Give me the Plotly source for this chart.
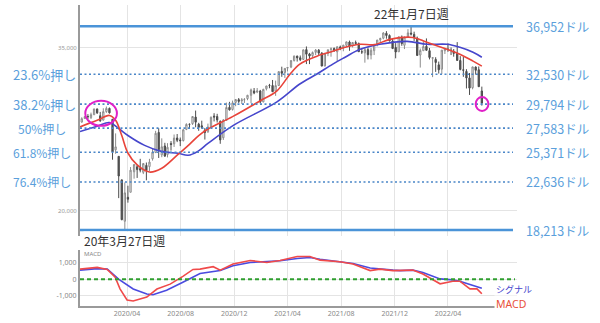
import plotly.graph_objects as go

# ---------------- weekly candles (DJIA, week ending) ----------------
weeks = ["2019-12-20","2019-12-27","2020-01-03","2020-01-10","2020-01-17","2020-01-24","2020-01-31","2020-02-07","2020-02-14","2020-02-21",
         "2020-02-28","2020-03-06","2020-03-13","2020-03-20","2020-03-27","2020-04-03","2020-04-09","2020-04-17","2020-04-24","2020-05-01",
         "2020-05-08","2020-05-15","2020-05-22","2020-05-29","2020-06-05","2020-06-12","2020-06-19","2020-06-26","2020-07-02","2020-07-10",
         "2020-07-17","2020-07-24","2020-07-31","2020-08-07","2020-08-14","2020-08-21","2020-08-28","2020-09-04","2020-09-11","2020-09-18",
         "2020-09-25","2020-10-02","2020-10-09","2020-10-16","2020-10-23","2020-10-30","2020-11-06","2020-11-13","2020-11-20","2020-11-27",
         "2020-12-04","2020-12-11","2020-12-18","2020-12-24","2020-12-31","2021-01-08","2021-01-15","2021-01-22","2021-01-29","2021-02-05",
         "2021-02-12","2021-02-19","2021-02-26","2021-03-05","2021-03-12","2021-03-19","2021-03-26","2021-04-01","2021-04-09","2021-04-16",
         "2021-04-23","2021-04-30","2021-05-07","2021-05-14","2021-05-21","2021-05-28","2021-06-04","2021-06-11","2021-06-18","2021-06-25",
         "2021-07-02","2021-07-09","2021-07-16","2021-07-23","2021-07-30","2021-08-06","2021-08-13","2021-08-20","2021-08-27","2021-09-03",
         "2021-09-10","2021-09-17","2021-09-24","2021-10-01","2021-10-08","2021-10-15","2021-10-22","2021-10-29","2021-11-05","2021-11-12",
         "2021-11-19","2021-11-26","2021-12-03","2021-12-10","2021-12-17","2021-12-23","2021-12-31","2022-01-07","2022-01-14","2022-01-21",
         "2022-01-28","2022-02-04","2022-02-11","2022-02-18","2022-02-25","2022-03-04","2022-03-11","2022-03-18","2022-03-25","2022-04-01",
         "2022-04-08","2022-04-14","2022-04-22","2022-04-29","2022-05-06","2022-05-13","2022-05-20","2022-05-27","2022-06-03","2022-06-10",
         "2022-06-17"]
opens = [28140,28465,28654,28553,28816,29350,28723,28319,29104,29400,
         28402,25590,24992,22831,19029,21228,21693,23574,24033,23869,
         23524,24162,24050,24770,25342,27191,25128,25947,25152,26174,
         26142,26677,26501,26440,27470,27930,28000,28600,27950,27800,
         27400,27250,27700,28690,28650,28200,26700,28300,29500,29300,
         29950,30200,30100,30200,30300,30600,31000,30900,31000,30000,
         31200,31500,31500,31000,31500,32800,32700,33100,33200,33800,
         34200,34050,33900,34800,34400,34250,34550,34750,34480,33300,
         34450,34800,34900,34600,35050,34950,35200,35500,35150,35450,
         35350,34600,34500,34800,34300,34700,35300,35700,35850,36300,
         36100,35600,35000,34600,35950,35200,35950,36320,36200,35850,
         34300,34700,35100,34700,34000,33900,33400,33000,34700,34850,
         34750,34650,34450,33800,32950,32800,32200,31300,33200,32950,
         31000]
highs = [28582,28701,28872,29009,29373,29374,29075,29409,29568,29477,
         28402,27102,25018,22837,22595,22293,24009,24265,24234,24765,
         24350,24425,24765,25758,27338,27580,26647,26236,26204,26393,
         27000,27043,26720,27500,28027,28020,28672,29199,28075,28270,
         27600,28000,28650,28958,28900,28300,28420,29933,30000,30116,
         30233,30350,30350,30350,30640,31220,31270,31270,31100,31200,
         31470,31650,32010,31950,32800,33230,33100,33200,33810,34260,
         34250,34260,34810,35091,34500,34630,34850,34850,34570,34500,
         34800,35000,35000,35100,35170,35240,35520,35630,35500,35630,
         35450,34950,34950,35000,34950,35300,35700,35900,36400,36500,
         36200,35800,35400,36000,36100,36000,36680,36952,36450,36000,
         34900,35550,35830,34950,34100,34100,33700,34760,34950,35372,
         35000,34850,35490,34200,34120,33000,32650,33220,33250,33250,
         31400]
lows = [28090,28440,28419,28418,28788,28888,28169,28300,28990,28920,
        24681,25226,21154,19121,18213,20735,21694,22941,23007,23518,
        23361,22790,23650,24600,25291,24843,24915,24940,24893,25523,
        25856,26300,25931,26360,27400,27550,27880,27664,27340,27530,
        26537,27150,27600,28200,28100,26144,26500,28300,29200,29200,
        29600,29900,29800,29900,30150,29880,30700,30800,29850,29950,
        31050,31250,30900,30550,31450,32300,32200,32800,33100,33700,
        33700,33750,33850,33470,33470,34100,34300,34300,33270,33250,
        34200,34150,34600,33740,34750,34650,35050,34690,35000,35250,
        34600,34400,33600,33900,33900,34300,35100,35400,35750,35800,
        35550,34850,34000,34600,35150,34850,35900,36100,35600,34250,
        33150,34700,34700,33900,32272,32750,32600,32550,34400,34600,
        34300,34150,33780,32900,32300,31228,30635,31150,32500,31390,
        29653]
closes = [28455,28645,28634,28823,29348,28990,28256,29103,29398,28992,
          25409,25865,23185,19174,21636,21053,23720,24242,23775,23724,
          24331,23685,24465,25383,27111,25605,25871,25016,25827,26075,
          26672,26470,26428,27433,27931,27930,28654,28133,27666,27657,
          27174,27683,28587,28606,28336,26502,28323,29480,29263,29910,
          30218,30046,30179,30200,30606,31098,30814,30997,29983,31148,
          31458,31494,30932,31496,32779,32628,33072,33153,33801,34200,
          34043,33874,34778,34382,34208,34529,34756,34480,33290,34433,
          34786,34870,34687,35061,34935,35208,35515,35120,35456,35369,
          34608,34585,34798,34326,34746,35295,35677,35820,36328,36100,
          35602,34899,34580,35971,35365,35950,36338,36231,35912,34265,
          34725,35089,34738,34079,34058,33615,32945,34755,34862,34818,
          34721,34451,33811,32977,32899,32197,31262,33213,32900,31393,
          29888]

# ---------------- moving averages ----------------
ma13_dates = ["2019-12-16","2020-01-24","2020-02-21","2020-03-06","2020-03-20","2020-04-03","2020-04-24","2020-05-22",
              "2020-06-19","2020-07-24","2020-08-21","2020-09-11","2020-10-02","2020-11-27","2021-01-29","2021-03-08",
              "2021-04-07","2021-04-29","2021-06-07","2021-07-13","2021-08-10","2021-09-13","2021-10-15","2021-11-20",
              "2022-01-11","2022-02-12","2022-03-30","2022-04-28","2022-05-28","2022-06-17"]
ma13_vals = [27700,28300,28750,28300,26900,25300,24200,23550,
             23900,25100,26100,26900,27500,28640,30100,31010,
             32560,33470,34200,34650,35010,35290,35250,35740,
             35920,35470,34830,34380,33740,33280]
ma26_dates = ["2019-12-16","2020-01-24","2020-02-21","2020-03-13","2020-04-03","2020-05-11","2020-06-18","2020-07-26",
              "2020-08-18","2020-09-09","2020-10-02","2020-11-28","2021-03-08","2021-04-29","2021-06-07","2021-07-13",
              "2021-08-10","2021-09-13","2021-10-28","2021-12-29","2022-02-12","2022-03-30","2022-04-28","2022-05-28",
              "2022-06-17"]
ma26_vals = [27270,27750,28100,27550,26910,26000,25450,25270,
             25090,25450,26180,27820,30000,31640,32560,33470,
             34100,34830,35290,35560,35290,35290,35010,34560,
             34100]

# ---------------- MACD panel ----------------
macd_dates = ["2019-12-16","2020-01-24","2020-02-16","2020-03-05","2020-03-16","2020-04-01","2020-04-15","2020-05-16",
              "2020-06-08","2020-07-08","2020-08-06","2020-08-29","2020-09-14","2020-10-14","2020-10-30","2020-11-28",
              "2021-01-06","2021-02-13","2021-03-15","2021-04-23","2021-05-22","2021-06-14","2021-07-29","2021-08-28",
              "2021-10-06","2021-10-28","2021-11-27","2021-12-13","2022-01-11","2022-02-03","2022-03-14","2022-04-12",
              "2022-04-28","2022-05-21","2022-06-06","2022-06-17"]
macd_vals = [620,730,600,120,-590,-1270,-1330,-1090,
             -600,-300,180,600,620,770,560,930,
             1150,1030,1150,1390,1390,1170,1070,930,
             530,620,530,530,560,320,-280,-120,
             -120,-590,-590,-890]
signal_dates = ["2019-12-16","2020-01-24","2020-02-16","2020-03-16","2020-04-15","2020-05-16","2020-05-30","2020-06-30",
                "2020-08-06","2020-09-14","2020-10-30","2020-11-28","2021-01-06","2021-02-13","2021-03-15","2021-04-23",
                "2021-05-22","2021-06-14","2021-07-29","2021-08-28","2021-10-06","2021-10-28","2021-11-27","2021-12-13",
                "2022-01-11","2022-02-03","2022-03-14","2022-04-12","2022-04-28","2022-05-21","2022-06-17"]
signal_vals = [560,650,620,-60,-600,-900,-950,-670,
               -180,350,540,830,1030,1070,1130,1270,
               1330,1230,1070,970,690,620,560,530,
               560,420,20,-40,-120,-320,-550]

# ---------------- axis ticks ----------------
x_tick_dates = ["2020-04-01","2020-08-01","2020-12-01","2021-04-01","2021-08-01","2021-12-01","2022-04-01"]
x_tick_labels = ["2020/04","2020/08","2020/12","2021/04","2021/08","2021/12","2022/04"]
y_tick_vals = [20000, 35000]
y_tick_labels = ["20,000", "35,000"]
macd_tick_vals = [-1000, 0, 1000]
macd_tick_labels = ["-1,000", "0", "1,000"]

# ---------------- Fibonacci levels ----------------
fib_values = [36952, 32530, 29794, 27583, 25371, 22636, 18213]
fib_right = ["36,952ドル","32,530ドル","29,794ドル","27,583ドル","25,371ドル","22,636ドル","18,213ドル"]
fib_left = ["", "23.6%押し", "38.2%押し", "50%押し", "61.8%押し", "76.4%押し", ""]
fib_solid = [True, False, False, False, False, False, True]

X_RANGE = ["2019-12-16", "2022-09-05"]

# pixel helpers (plot area: x 80..517, y 5..309)
def px_x(p):
    return (p - 80) / 437.0

def px_y(p):
    return (309 - p) / 304.0

fig = go.Figure()

fig.add_trace(go.Candlestick(
    x=weeks, open=opens, high=highs, low=lows, close=closes,
    increasing=dict(fillcolor="white", line=dict(color="#8c8c8c", width=1)),
    decreasing=dict(fillcolor="#4d4d4d", line=dict(color="#4d4d4d", width=1)),
    whiskerwidth=0, xaxis="x", yaxis="y", showlegend=False, hoverinfo="skip"))

fig.add_trace(go.Scatter(x=ma26_dates, y=ma26_vals, mode="lines", line=dict(color="#4646cc", width=1.6, shape="spline"),
                         xaxis="x", yaxis="y", showlegend=False, hoverinfo="skip"))
fig.add_trace(go.Scatter(x=ma13_dates, y=ma13_vals, mode="lines", line=dict(color="#e8443a", width=1.6, shape="spline"),
                         xaxis="x", yaxis="y", showlegend=False, hoverinfo="skip"))

fig.add_trace(go.Scatter(x=signal_dates, y=signal_vals, mode="lines", line=dict(color="#4a4ae0", width=1.6),
                         xaxis="x2", yaxis="y2", showlegend=False, hoverinfo="skip"))
fig.add_trace(go.Scatter(x=macd_dates, y=macd_vals, mode="lines", line=dict(color="#f04a4a", width=1.6),
                         xaxis="x2", yaxis="y2", showlegend=False, hoverinfo="skip"))

shapes = []
annotations = []
line_end = px_x(513)
for v, solid, rl, ll in zip(fib_values, fib_solid, fib_right, fib_left):
    if solid:
        shapes.append(dict(type="line", xref="x domain", yref="y", x0=0, x1=line_end, y0=v, y1=v,
                           line=dict(color="#4a94d8", width=2.5), layer="above"))
    else:
        shapes.append(dict(type="line", xref="x domain", yref="y", x0=0, x1=line_end, y0=v, y1=v,
                           line=dict(color="#4a86c8", width=1.6, dash="2px,2.5px"), layer="above"))
    annotations.append(dict(text=rl, xref="paper", yref="y", x=px_x(524), y=v, xanchor="left", yanchor="middle",
                            showarrow=False, font=dict(family="Noto Sans CJK JP", size=12.5, color="#5b9fdc")))
    if ll:
        big = ll.startswith("23.6") or ll.startswith("38.2")
        lx = 17 if ll.startswith("50") else 12
        annotations.append(dict(text=ll, xref="paper", yref="y", x=px_x(lx), y=v, xanchor="left", yanchor="middle",
                                showarrow=False, bgcolor="white", borderpad=0,
                                font=dict(family="Noto Sans CJK JP", size=13 if big else 12, color="#5b9fdc")))

# zero line in MACD panel
shapes.append(dict(type="line", xref="x2 domain", yref="y2", x0=0, x1=px_x(515), y0=0, y1=0,
                   line=dict(color="#2f9f2f", width=2, dash="4px,3px"), layer="above"))

# magenta highlight circles
shapes.append(dict(type="circle", xref="x", yref="y", x0="2019-12-28", x1="2020-03-09", y0=27800, y1=30100,
                   line=dict(color="#e020c8", width=2), layer="above"))
shapes.append(dict(type="circle", xref="x", yref="y", x0="2022-06-03", x1="2022-07-02", y0=29170, y1=30440,
                   line=dict(color="#e020c8", width=2), layer="above"))

annotations += [
    dict(text="22年1月7日週", xref="x", yref="paper", x="2022-01-07", y=px_y(14), showarrow=False,
         xanchor="center", yanchor="middle", font=dict(family="Noto Sans CJK JP", size=12, color="#333333")),
    dict(text="20年3月27日週", xref="x", yref="paper", x="2020-03-27", y=px_y(243), showarrow=False,
         xanchor="center", yanchor="middle", bgcolor="white", borderpad=0,
         font=dict(family="Noto Sans CJK JP", size=12, color="#333333")),
    dict(text="MACD", xref="paper", yref="paper", x=px_x(82), y=px_y(256), showarrow=False,
         xanchor="left", yanchor="middle", font=dict(family="Noto Sans", size=6, color="#888888")),
    dict(text="シグナル", xref="paper", yref="paper", x=px_x(494), y=px_y(292), showarrow=False,
         xanchor="left", yanchor="middle", font=dict(family="Noto Sans CJK JP", size=9, color="#4444cc")),
    dict(text="MACD", xref="paper", yref="paper", x=px_x(494), y=px_y(307), showarrow=False,
         xanchor="left", yanchor="middle", bgcolor="white", borderpad=1,
         font=dict(family="Noto Sans", size=10.5, color="#e8503a")),
]

grid = "#e4e4e4"
fig.update_layout(
    width=600, height=323, margin=dict(l=80, r=83, t=5, b=14),
    paper_bgcolor="white", plot_bgcolor="white",
    showlegend=False,
    shapes=shapes, annotations=annotations,
    xaxis=dict(type="date", range=X_RANGE, domain=[0, 1], anchor="y", showticklabels=False,
               tickvals=x_tick_dates, showgrid=True, gridcolor=grid, gridwidth=1,
               zeroline=False, showline=False, ticks="", rangeslider=dict(visible=False)),
    yaxis=dict(domain=[px_y(238), 1], range=[17700, 38900], tickvals=y_tick_vals, ticktext=y_tick_labels,
               tickfont=dict(family="Noto Sans", size=6, color="#999999"), showgrid=True, gridcolor=grid,
               zeroline=False, showline=True, linecolor="#9a9a9a", linewidth=2, ticks=""),
    xaxis2=dict(type="date", range=X_RANGE, domain=[0, 1], anchor="y2", matches="x",
                tickvals=x_tick_dates, ticktext=x_tick_labels,
                tickfont=dict(family="Noto Sans", size=7, color="#888888"), showgrid=True, gridcolor=grid,
                zeroline=False, showline=True, linecolor="#9a9a9a", linewidth=2, ticks="",
                rangeslider=dict(visible=False)),
    yaxis2=dict(domain=[0, px_y(252)], range=[-1640, 1820], tickvals=macd_tick_vals, ticktext=macd_tick_labels,
                tickfont=dict(family="Noto Sans", size=7, color="#888888"), showgrid=True, gridcolor=grid,
                zeroline=False, showline=True, linecolor="#9a9a9a", linewidth=2, ticks=""),
)

fig.write_html("out.html")
